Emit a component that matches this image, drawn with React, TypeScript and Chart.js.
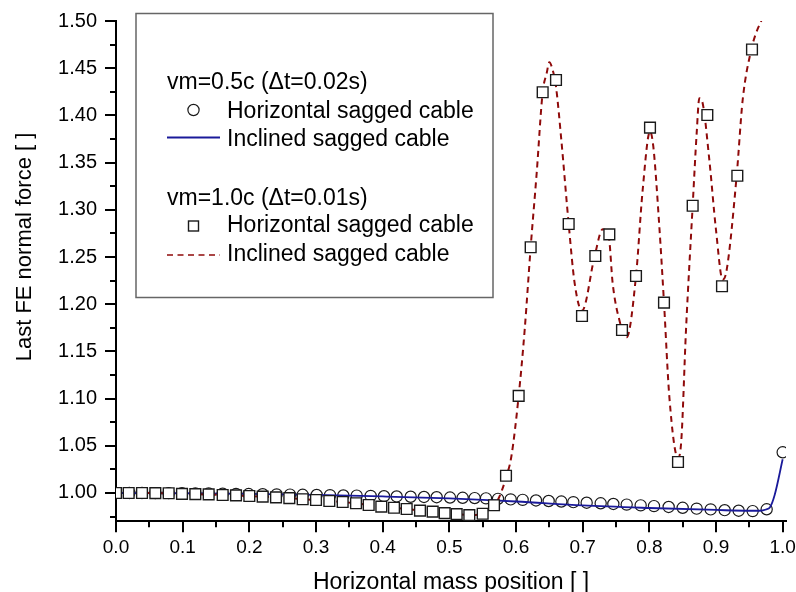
import React, { useEffect, useRef } from "react";
import { Chart, registerables } from "chart.js";

Chart.register(...registerables);

// ---------- data ----------
// vm=0.5c, horizontal sagged cable (circles)
const circleX = [
  0.0, 0.02, 0.039, 0.059, 0.079, 0.099, 0.119, 0.139, 0.16, 0.18, 0.199, 0.22, 0.241, 0.261, 0.28, 0.301,
  0.321, 0.341, 0.361, 0.382, 0.402, 0.421, 0.442, 0.462, 0.481, 0.501, 0.52, 0.538, 0.555, 0.573, 0.592,
  0.61, 0.63, 0.649, 0.668, 0.686, 0.706, 0.727, 0.746, 0.766, 0.787, 0.807, 0.829, 0.85, 0.871, 0.892,
  0.913, 0.934, 0.955, 0.976, 1.0,
];
const circleY = [
  1.0, 1.0, 1.0, 0.9999, 0.9998, 0.9997, 0.9995, 0.9994, 0.9992, 0.999, 0.9989, 0.9987, 0.9985, 0.9983,
  0.9981, 0.9979, 0.9977, 0.9974, 0.9972, 0.9969, 0.9966, 0.9963, 0.996, 0.9958, 0.9955, 0.9952, 0.9949,
  0.9946, 0.9943, 0.9938, 0.9932, 0.9927, 0.9921, 0.9915, 0.9909, 0.9903, 0.9897, 0.9891, 0.9884, 0.9877,
  0.9869, 0.9861, 0.9852, 0.9843, 0.9834, 0.9826, 0.9818, 0.9812, 0.9808, 0.9827, 1.0431,
];
// vm=0.5c, inclined sagged cable (solid line)
const blueX = [0.0, 0.1, 0.2, 0.3, 0.4, 0.5, 0.55, 0.6, 0.7, 0.8, 0.9, 0.95, 0.966, 0.975, 0.981, 0.988, 1.0];
const blueY = [
  1.0, 0.9997, 0.999, 0.9979, 0.9963, 0.9942, 0.9926, 0.991, 0.9868, 0.9841, 0.982, 0.9812, 0.9812, 0.9825,
  0.9849, 0.9979, 1.0357,
];
// vm=1.0c, horizontal sagged cable (squares)
const squareX = [
  0.0, 0.019, 0.039, 0.059, 0.079, 0.099, 0.119, 0.139, 0.16, 0.18, 0.2, 0.22, 0.24, 0.26, 0.28, 0.3, 0.32,
  0.34, 0.36, 0.379, 0.398, 0.417, 0.436, 0.456, 0.475, 0.493, 0.511, 0.53, 0.55, 0.567, 0.585, 0.604,
  0.622, 0.64, 0.66, 0.679, 0.699, 0.719, 0.74, 0.759, 0.78, 0.801, 0.822, 0.843, 0.865, 0.887, 0.909,
  0.932, 0.954,
];
const squareY = [
  1.0, 1.0, 1.0, 0.9998, 0.9997, 0.999, 0.9988, 0.9985, 0.9979, 0.9975, 0.9968, 0.9961, 0.9954, 0.9946,
  0.9934, 0.9926, 0.9915, 0.9904, 0.9891, 0.9873, 0.9856, 0.9844, 0.983, 0.9813, 0.9802, 0.9786, 0.9776,
  0.9766, 0.978, 0.987, 1.0183, 1.1028, 1.2603, 1.4245, 1.4375, 1.285, 1.1875, 1.2511, 1.274, 1.1727,
  1.2299, 1.387, 1.2016, 1.0328, 1.3043, 1.4004, 1.219, 1.3361, 1.4698,
];
// vm=1.0c, inclined sagged cable (dashed line)
const redX = [
  0.0, 0.039, 0.079, 0.119, 0.16, 0.2, 0.24, 0.28, 0.32, 0.36, 0.398, 0.436, 0.475, 0.511, 0.53, 0.55,
  0.567, 0.574, 0.586, 0.593, 0.604, 0.613, 0.622, 0.631, 0.64, 0.646, 0.65, 0.655, 0.66, 0.668, 0.679,
  0.688, 0.699, 0.718, 0.73, 0.739, 0.745, 0.755, 0.766, 0.78, 0.79, 0.801, 0.806, 0.815, 0.822, 0.83,
  0.843, 0.848, 0.855, 0.865, 0.871, 0.875, 0.88, 0.89, 0.9, 0.91, 0.916, 0.931, 0.94, 0.953, 0.96, 0.968,
  0.977,
];
const redY = [
  1.0, 1.0, 0.9997, 0.9988, 0.9979, 0.9968, 0.9954, 0.9934, 0.9915, 0.9891, 0.9856, 0.983, 0.9802, 0.9776,
  0.9766, 0.978, 0.987, 0.9944, 1.0183, 1.0385, 1.1028, 1.1727, 1.2603, 1.3387, 1.4245, 1.4446, 1.4562,
  1.4481, 1.4304, 1.3739, 1.285, 1.2221, 1.193, 1.2511, 1.2793, 1.2722, 1.2221, 1.1833, 1.165, 1.2299,
  1.321, 1.383, 1.3668, 1.2821, 1.2016, 1.102, 1.037, 1.0561, 1.1727, 1.3043, 1.381, 1.4181, 1.4128,
  1.3528, 1.2786, 1.226, 1.2362, 1.3361, 1.4163, 1.47, 1.487, 1.5003, 1.5159,
];

const xMajorTicks = [0.0, 0.1, 0.2, 0.3, 0.4, 0.5, 0.6, 0.7, 0.8, 0.9, 1.0];
const xMinorTicks = [0.05, 0.15, 0.25, 0.35, 0.45, 0.55, 0.65, 0.75, 0.85, 0.95];
const yMajorTicks = [1.0, 1.05, 1.1, 1.15, 1.2, 1.25, 1.3, 1.35, 1.4, 1.45, 1.5];
const yMinorTicks = [0.975, 1.025, 1.075, 1.125, 1.175, 1.225, 1.275, 1.325, 1.375, 1.425, 1.475];

const legendGroups = ["vm=0.5c (\u0394t=0.02s)", "vm=1.0c (\u0394t=0.01s)"];
const legendItems = ["Horizontal sagged cable", "Inclined sagged cable"];
const xTitle = "Horizontal mass position [ ]";
const yTitle = "Last FE normal force [ ]";

// ---------- styles ----------
const FONT = "'Liberation Sans', Arial, Helvetica, sans-serif";
const BLUE = "#1a1a9a";
const RED = "#8f0a0a";
const MARK = "#1a1a1a";

const toPoints = (xs: number[], ys: number[]) => xs.map((x, i) => ({ x, y: ys[i] }));

const decorPlugin = {
  id: "decor",
  afterDraw(chart: any) {
    const { ctx, scales } = chart;
    const xs = scales.x;
    const ys = scales.y;
    const area = chart.chartArea;
    ctx.save();
    // tick marks (outward)
    ctx.strokeStyle = "#000";
    ctx.lineWidth = 2;
    const axisY = area.bottom;
    const axisX = area.left;
    const drawXT = (v: number, len: number) => {
      const p = Math.round(xs.getPixelForValue(v));
      ctx.beginPath();
      ctx.moveTo(p, axisY);
      ctx.lineTo(p, axisY + len);
      ctx.stroke();
    };
    const drawYT = (v: number, len: number) => {
      const p = Math.round(ys.getPixelForValue(v));
      ctx.beginPath();
      ctx.moveTo(axisX, p);
      ctx.lineTo(axisX - len, p);
      ctx.stroke();
    };
    xMajorTicks.forEach((v) => drawXT(v, 11));
    xMinorTicks.forEach((v) => drawXT(v, 6));
    yMajorTicks.forEach((v) => drawYT(v, 11));
    yMinorTicks.forEach((v) => drawYT(v, 6));

    // axis titles
    ctx.fillStyle = "#000";
    ctx.font = `23px ${FONT}`;
    ctx.textAlign = "center";
    ctx.textBaseline = "alphabetic";
    ctx.fillText(xTitle, (area.left + area.right) / 2, 588.5);
    ctx.save();
    ctx.translate(31, 247);
    ctx.rotate(-Math.PI / 2);
    ctx.font = `22px ${FONT}`;
    ctx.fillText(yTitle, 0, 0);
    ctx.restore();

    // legend box
    const bx = 136, by = 13.5, bw = 357, bh = 284;
    ctx.fillStyle = "#fff";
    ctx.fillRect(bx, by, bw, bh);
    ctx.strokeStyle = "#666";
    ctx.lineWidth = 1.5;
    ctx.strokeRect(bx, by, bw, bh);

    ctx.fillStyle = "#000";
    ctx.font = `23px ${FONT}`;
    ctx.textAlign = "left";
    ctx.textBaseline = "alphabetic";
    const textX = 227;
    const symX = 193.5;
    // group 1
    ctx.fillText(legendGroups[0], 167, 88.5);
    ctx.fillText(legendItems[0], textX, 117.5);
    ctx.fillText(legendItems[1], textX, 146);
    ctx.strokeStyle = MARK;
    ctx.lineWidth = 1.2;
    ctx.beginPath();
    ctx.arc(symX, 110, 5.6, 0, Math.PI * 2);
    ctx.stroke();
    ctx.strokeStyle = BLUE;
    ctx.lineWidth = 1.8;
    ctx.beginPath();
    ctx.moveTo(167, 137.5);
    ctx.lineTo(220, 137.5);
    ctx.stroke();
    // group 2
    ctx.fillText(legendGroups[1], 167, 204.5);
    ctx.fillText(legendItems[0], textX, 232);
    ctx.fillText(legendItems[1], textX, 261);
    ctx.strokeStyle = MARK;
    ctx.lineWidth = 1.4;
    ctx.strokeRect(symX - 5, 226 - 5, 10, 10);
    ctx.strokeStyle = RED;
    ctx.lineWidth = 1.6;
    ctx.setLineDash([6, 4.5]);
    ctx.beginPath();
    ctx.moveTo(167, 255);
    ctx.lineTo(220, 255);
    ctx.stroke();
    ctx.setLineDash([]);
    ctx.restore();
  },
};

export default function App() {
  const canvasRef = useRef<HTMLCanvasElement | null>(null);

  useEffect(() => {
    const canvas = canvasRef.current;
    if (!canvas) return;
    const chart = new Chart(canvas, {
      type: "scatter",
      data: {
        datasets: [
          {
            label: "circles",
            data: toPoints(circleX, circleY),
            showLine: false,
            pointStyle: "circle",
            pointRadius: 5.6,
            pointBorderWidth: 1.2,
            pointBorderColor: MARK,
            pointBackgroundColor: "#ffffff",
            order: 4,
          },
          {
            label: "blue",
            data: toPoints(blueX, blueY),
            showLine: true,
            pointRadius: 0,
            borderColor: BLUE,
            borderWidth: 1.8,
            tension: 0,
            cubicInterpolationMode: "monotone",
            order: 3,
          },
          {
            label: "red",
            data: toPoints(redX, redY),
            showLine: true,
            pointRadius: 0,
            borderColor: RED,
            borderWidth: 2,
            borderDash: [6, 4.5],
            cubicInterpolationMode: "monotone",
            order: 2,
          },
          {
            label: "squares",
            data: toPoints(squareX, squareY),
            showLine: false,
            pointStyle: "rect",
            pointRadius: 7.6,
            pointBorderWidth: 1.4,
            pointBorderColor: MARK,
            pointBackgroundColor: "#ffffff",
            order: 1,
          },
        ],
      },
      options: {
        responsive: false,
        animation: false,
        events: [],
        layout: { padding: { left: 0, top: 21, right: 10, bottom: 0 } },
        plugins: { legend: { display: false }, tooltip: { enabled: false }, title: { display: false } },
        scales: {
          x: {
            type: "linear",
            min: 0,
            max: 1.005,
            afterBuildTicks: (s: any) => {
              s.ticks = xMajorTicks.map((v) => ({ value: v }));
            },
            afterFit: (s: any) => {
              s.height = 70.7;
              s.paddingLeft = 0;
              s.paddingRight = 0;
            },
            grid: { display: true, drawOnChartArea: false, drawTicks: false },
            border: { display: true, color: "#000", width: 2 },
            ticks: {
              padding: 15,
              color: "#000",
              autoSkip: false,
              maxRotation: 0,
              font: { family: FONT, size: 19 },
              callback: (v: any) => Number(v).toFixed(1),
            },
          },
          y: {
            type: "linear",
            min: 0.97,
            max: 1.5,
            afterBuildTicks: (s: any) => {
              s.ticks = yMajorTicks.map((v) => ({ value: v }));
            },
            afterFit: (s: any) => {
              s.width = 116;
              s.paddingTop = 0;
              s.paddingBottom = 0;
            },
            grid: { display: true, drawOnChartArea: false, drawTicks: false },
            border: { display: true, color: "#000", width: 2 },
            ticks: {
              padding: 19,
              color: "#000",
              autoSkip: false,
              font: { family: FONT, size: 20 },
              callback: (v: any) => Number(v).toFixed(2),
            },
          },
        },
      } as any,
      plugins: [decorPlugin],
    });
    return () => chart.destroy();
  }, []);

  return (
    <div style={{ position: "fixed", left: 0, top: 0, width: 796, height: 592, background: "#fff" }}>
      <canvas ref={canvasRef} width={796} height={592} style={{ display: "block" }} />
    </div>
  );
}
